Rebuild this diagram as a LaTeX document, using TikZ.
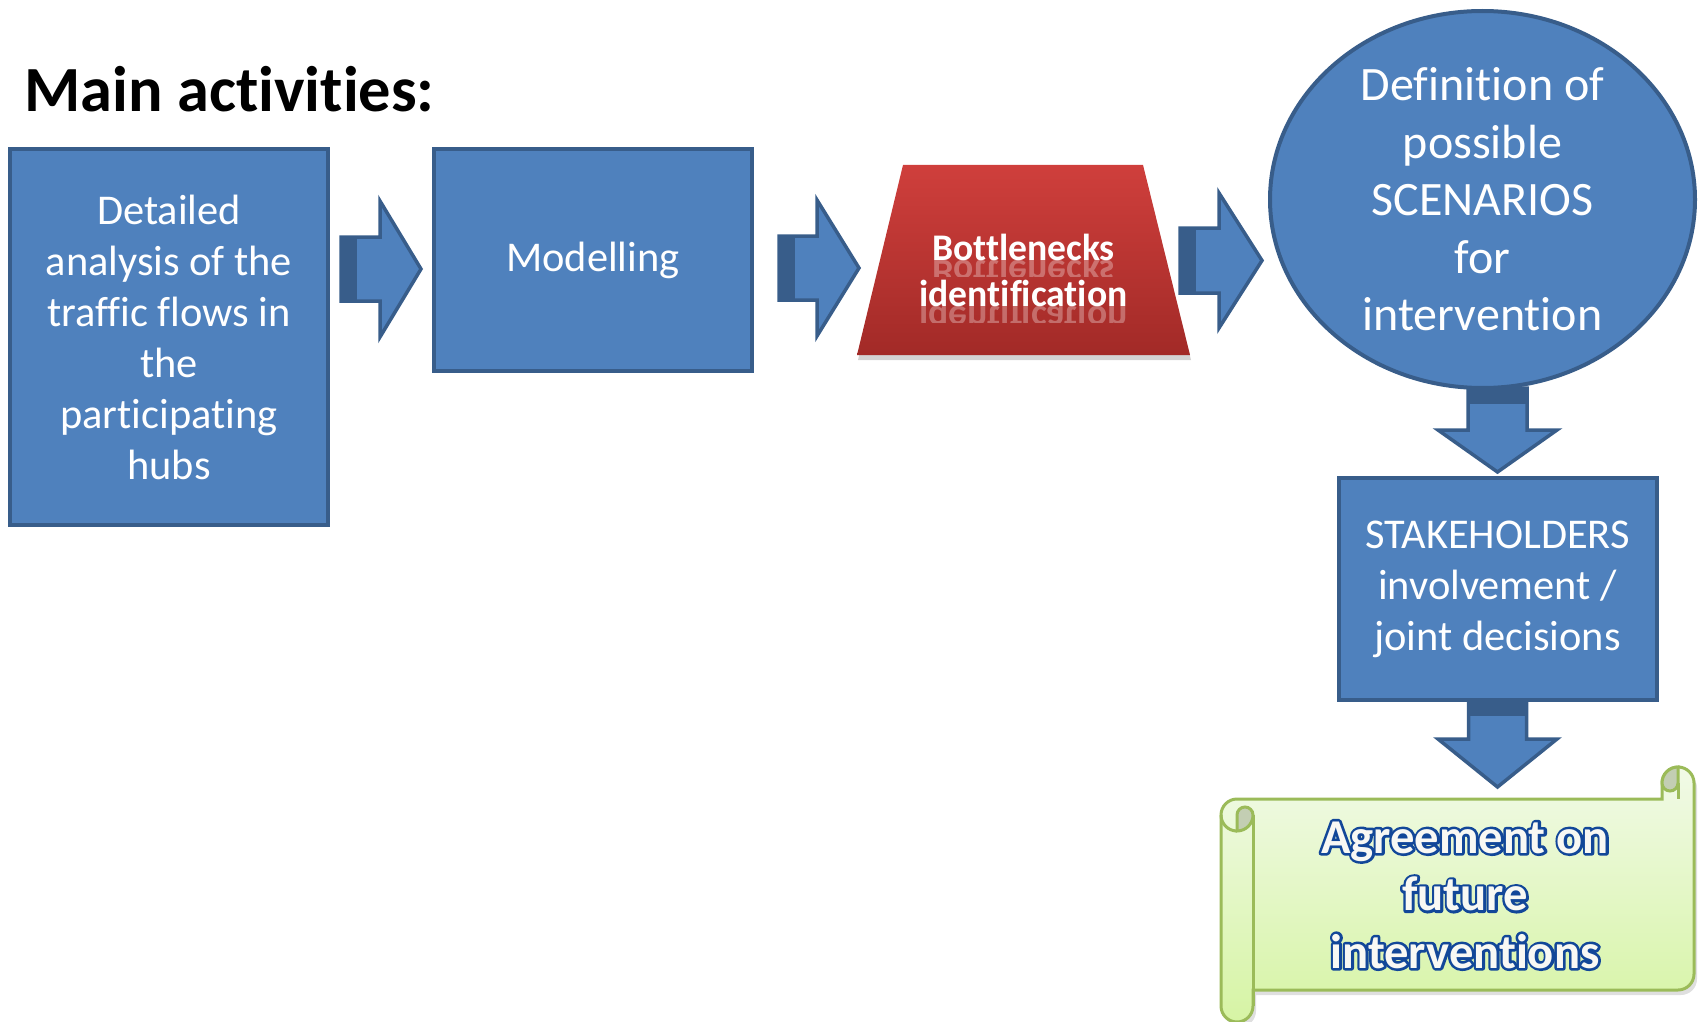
\documentclass[tikz,border=0pt]{standalone}
\usepackage{fontspec}
\setmainfont{Carlito}[Ligatures={NoCommon}]
\usepackage{graphicx}
\usetikzlibrary{calc,shadows,shapes.geometric}

\definecolor{boxblue}{HTML}{4F81BD}
\definecolor{edgeblue}{HTML}{385D8A}
\definecolor{trapred}{HTML}{CF3F3C}
\definecolor{trapdark}{HTML}{A22A27}
\definecolor{scrolltop}{HTML}{F1FAE7}
\definecolor{scrollbottom}{HTML}{D6F4A4}
\definecolor{scrolledge}{HTML}{9BBB59}
\definecolor{curlgrey}{HTML}{C3CEB3}
\definecolor{wordfill}{HTML}{F8F8F4}

% outlined lettering: a wide dark blue stroke under the filled letters
\newcommand\wordart[1]{\rlap{\special{pdf:literal direct 1 Tr 2.6 w 1 j 0.07 0.28 0.60 RG}#1\special{pdf:literal direct 0 Tr}}#1}

\tikzset{
	bluebox/.style={draw=edgeblue, fill=boxblue, line width=2pt, text=white, align=center, inner sep=0pt, font=\fontsize{21.2}{25.5}\selectfont},
	arrowedge/.style={draw=edgeblue, line width=1.75pt, line join=miter},
	trapfill/.style={top color=trapred, bottom color=trapdark, drop shadow={opacity=0.35, shadow xshift=0.5pt, shadow yshift=-2.5pt}},
	traptext/.style={text=white, align=center, inner sep=0pt, font=\fontsize{18.8}{23}\selectfont\bfseries},
	mirrortext/.style={traptext, anchor=base, text opacity=0.3},
	scrollbody/.style={draw=scrolledge, line width=1.5pt, top color=scrolltop, bottom color=scrollbottom, drop shadow={opacity=0.25, shadow xshift=1.5pt, shadow yshift=-2.5pt}},
	scrollline/.style={draw=scrolledge, line width=1.5pt},
	scrolltext/.style={text=wordfill, align=center, inner sep=0pt, font=\fontsize{24.3}{28.75}\selectfont\bfseries},
}

% block arrow: [rotation](tail centre)(length:head length:shaft half width:head half width)
\def\blockarrow[#1](#2)(#3:#4:#5:#6){
	\begin{scope}[shift={(#2)}, rotate=#1]
		\fill[boxblue] (0,-#5) -- (#3-#4,-#5) -- (#3-#4,-#6) -- (#3,0) -- (#3-#4,#6) -- (#3-#4,#5) -- (0,#5) -- cycle;
		\fill[edgeblue] (0,-#5) rectangle (16,#5);
		\draw[arrowedge] (0,-#5) -- (#3-#4,-#5) -- (#3-#4,-#6) -- (#3,0) -- (#3-#4,#6) -- (#3-#4,#5) -- (0,#5) -- cycle;
	\end{scope}}

\begin{document}
\begin{tikzpicture}[x=0.5pt, y=-0.5pt]
	%%%%% START %%%%%
	\useasboundingbox (0,0) rectangle (1698,1022);
	
	\node[anchor=base west, inner sep=0pt, font=\fontsize{32.2}{38}\selectfont\bfseries] (title) at (24,112) {Main activities:};
	
	\node[bluebox, minimum width=159pt, minimum height=188pt] (traffic) at (169,337) {Detailed\\analysis of the\\traffic flows in\\the\\participating\\hubs};
	\node[bluebox, minimum width=159pt, minimum height=111pt] (model) at (593,260) {Modelling};
	
	\path[trapfill] (857,355) -- (903,165) -- (1143,165) -- (1190,355) -- cycle;
	% reflections under the two lines
	\begin{scope}
		\clip (900,260) rectangle (1150,276) (900,306) rectangle (1150,322);
		\node[mirrortext] (bottlemirror) at (1023.5,260) {\scalebox{1}[-1]{Bottlenecks}};
		\node[mirrortext] (identmirror) at (1023.5,306) {\scalebox{1}[-1]{identification}};
	\end{scope}
	\node[traptext] (bottle) at (1023.5,270) {Bottlenecks\\identification};
	
	\node[bluebox, ellipse, minimum width=212.5pt, minimum height=188.5pt, inner sep=-40pt, font=\fontsize{24}{28.75}\selectfont] (scen) at (1482.5,199.5) {Definition of\\possible\\SCENARIOS\\for\\intervention};
	\node[bluebox, minimum width=159pt, minimum height=111pt] (stake) at (1497.5,589) {STAKEHOLDERS\\involvement /\\joint decisions};
	
	% scroll
	\path[scrollbody] (1221,815) arc (180:270:16) -- (1662,799) -- (1662,783) arc (180:360:16) -- (1694,974) arc (0:90:16) -- (1253,990) -- (1253,1006) arc (0:180:16) -- cycle;
	\draw[scrollline, fill=curlgrey] (1253,815) arc (0:-180:8) -- (1237,831) arc (90:0:16) -- cycle;
	\draw[scrollline] (1221,815) arc (180:90:16);
	\draw[scrollline] (1253,815) -- (1253,1006);
	\draw[scrollline, fill=curlgrey] (1662,783) arc (180:270:16) -- (1678,783) arc (0:180:8) -- cycle;
	\draw[scrollline] (1678,783) -- (1678,799);
	\node[scrolltext] (agree) at (1465,895) {\wordart{Agreement on}\\\wordart{future}\\\wordart{interventions}};
	
	% arrows
	\blockarrow[0](341,269)(80:41:32:68)
	\blockarrow[0](779,268)(80:42:32:68)
	\blockarrow[0](1180,260.5)(82:43:32.5:67.5)
	\blockarrow[-90](1497.5,388)(84:42:29.5:59.5)
	\blockarrow[-90](1497.5,700)(87:48:29:59.5)
	
	%%%%% END %%%%%
\end{tikzpicture}
\end{document}
